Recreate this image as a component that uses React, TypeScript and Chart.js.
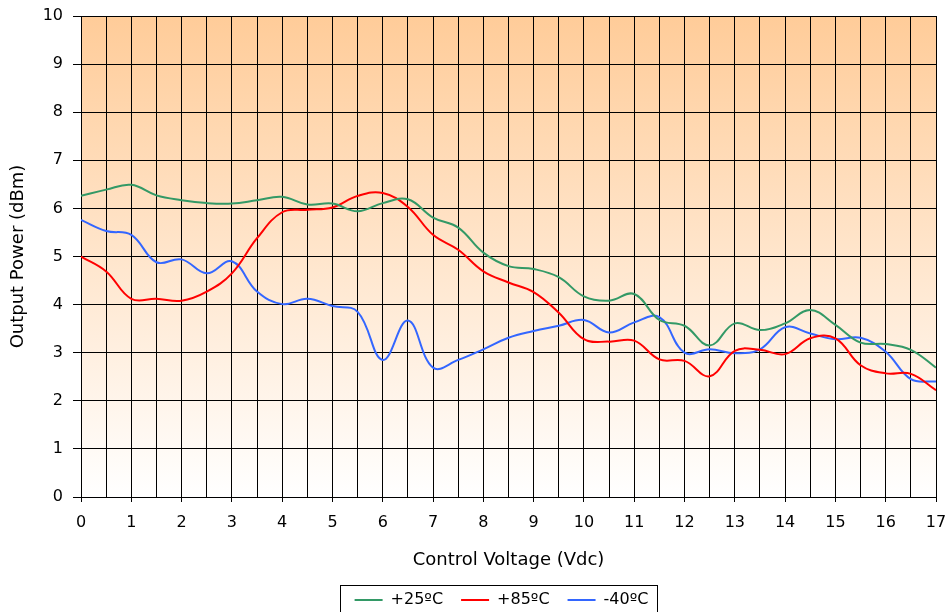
import React, { useEffect, useRef } from "react";
import { Chart, registerables } from "chart.js";

Chart.register(...registerables);

const voltages = [0, 0.5, 1, 1.5, 2, 2.5, 3, 3.5, 4, 4.5, 5, 5.5, 6, 6.5, 7, 7.5, 8, 8.5, 9, 9.5, 10, 10.5, 11, 11.5, 12, 12.5, 13, 13.5, 14, 14.5, 15, 15.5, 16, 16.5, 17];

const power25 = [6.26, 6.39, 6.49, 6.27, 6.17, 6.11, 6.10, 6.17, 6.24, 6.08, 6.10, 5.94, 6.11, 6.19, 5.81, 5.60, 5.08, 4.80, 4.74, 4.57, 4.17, 4.08, 4.22, 3.68, 3.56, 3.15, 3.61, 3.47, 3.61, 3.89, 3.58, 3.21, 3.18, 3.06, 2.69];
const power85 = [5.0, 4.69, 4.12, 4.12, 4.08, 4.27, 4.65, 5.38, 5.92, 5.97, 6.02, 6.26, 6.32, 6.03, 5.45, 5.14, 4.69, 4.46, 4.26, 3.83, 3.28, 3.23, 3.25, 2.86, 2.83, 2.51, 3.04, 3.06, 2.97, 3.30, 3.30, 2.74, 2.57, 2.56, 2.22];
const powerM40 = [5.76, 5.53, 5.45, 4.88, 4.94, 4.65, 4.90, 4.27, 4.01, 4.12, 3.97, 3.85, 2.85, 3.67, 2.69, 2.85, 3.07, 3.31, 3.45, 3.56, 3.68, 3.42, 3.63, 3.74, 3.0, 3.07, 2.99, 3.07, 3.53, 3.40, 3.28, 3.31, 3.02, 2.45, 2.40];

const seriesLabels = ["+25ºC", "+85ºC", "-40ºC"];
const seriesColors = ["#339966", "#FF0000", "#3366FF"];

const FONT = "'DejaVu Sans', Verdana, sans-serif";

const bgPlugin = {
  id: "bgGradient",
  beforeDraw(chart: any) {
    const { ctx, chartArea } = chart;
    if (!chartArea) return;
    const g = ctx.createLinearGradient(0, chartArea.top, 0, chartArea.bottom);
    g.addColorStop(0, "rgb(255,204,153)");
    g.addColorStop(1, "rgb(255,255,255)");
    ctx.save();
    ctx.fillStyle = g;
    ctx.fillRect(chartArea.left, chartArea.top, chartArea.right - chartArea.left, chartArea.bottom - chartArea.top);
    ctx.restore();
  },
};

const legendPlugin = {
  id: "legendShift",
  afterLayout(chart: any) {
    const lg = chart.legend;
    if (!lg) return;
    const dy = 5;
    const dx = -7;
    lg.top += dy;
    lg.bottom += dy;
    lg.left += dx;
    lg.right += dx;
  },
  afterDraw(chart: any) {
    const lg = chart.legend;
    if (!lg || !lg.legendHitBoxes || !lg.legendHitBoxes.length) return;
    const boxes = lg.legendHitBoxes;
    const first = boxes[0];
    const last = boxes[boxes.length - 1];
    const cy = first.top + first.height / 2;
    const { ctx } = chart;
    ctx.save();
    ctx.strokeStyle = "#000";
    ctx.lineWidth = 1;
    const x0 = Math.round(first.left - 15) + 0.5;
    const x1 = Math.round(last.left + last.width + 9) + 0.5;
    const y0 = Math.round(cy - 15) + 0.5;
    ctx.strokeRect(x0, y0, x1 - x0, 40);
    ctx.restore();
  },
};

export default function App() {
  const ref = useRef<HTMLCanvasElement | null>(null);

  useEffect(() => {
    if (!ref.current) return;
    const mk = (data: number[]) => voltages.map((x, i) => ({ x, y: data[i] }));
    const all = [power25, power85, powerM40];
    const chart = new Chart(ref.current, {
      type: "line",
      data: {
        datasets: all.map((d, i) => ({
          label: seriesLabels[i],
          data: mk(d),
          borderColor: seriesColors[i],
          backgroundColor: seriesColors[i],
          borderWidth: 2,
          pointRadius: 0,
          tension: 0.4,
          fill: false,
        })),
      },
      options: {
        animation: false,
        responsive: false,
        maintainAspectRatio: false,
        layout: { padding: { top: 16, right: 13, left: 0, bottom: -1 } },
        plugins: {
          tooltip: { enabled: false },
          legend: {
            position: "bottom",
            fullSize: false,
            labels: {
              font: { family: FONT, size: 16 },
              color: "#000",
              boxWidth: 28,
              boxHeight: 2,
              padding: 18,
              generateLabels(c: any) {
                return c.data.datasets.map((ds: any, i: number) => ({
                  text: ds.label,
                  fillStyle: ds.borderColor,
                  strokeStyle: ds.borderColor,
                  lineWidth: 0,
                  hidden: false,
                  datasetIndex: i,
                  fontColor: "#000",
                }));
              },
            },
          },
        },
        scales: {
          x: {
            type: "linear",
            min: 0,
            max: 17,
            afterFit(scale: any) {
              scale.height = 72;
              scale.paddingLeft = 0;
              scale.paddingRight = 0;
            },
            ticks: {
              stepSize: 0.5,
              autoSkip: false,
              maxRotation: 0,
              padding: 11,
              color: "#000",
              font: { family: FONT, size: 16 },
              callback: (v: any) => (Number(v) % 1 === 0 ? String(v) : ""),
            },
            grid: {
              color: "#000",
              lineWidth: 1,
              tickLength: 5,
              tickColor: (c: any) => (c.tick && c.tick.value % 1 === 0 ? "#000" : "rgba(0,0,0,0)"),
            },
            border: { color: "#000", width: 1 },
            title: {
              display: true,
              text: "Control Voltage (Vdc)",
              color: "#000",
              font: { family: FONT, size: 18 },
              padding: { top: 0, bottom: -2 },
            },
          },
          y: {
            min: 0,
            max: 10,
            afterFit(scale: any) {
              scale.width = 81;
              scale.paddingTop = 0;
              scale.paddingBottom = 0;
            },
            ticks: {
              stepSize: 1,
              padding: 10,
              color: "#000",
              font: { family: FONT, size: 16 },
            },
            grid: { color: "#000", lineWidth: 1, tickLength: 8, tickColor: "#000" },
            border: { color: "#000", width: 1 },
            title: {
              display: true,
              text: "Output Power (dBm)",
              color: "#000",
              font: { family: FONT, size: 18 },
              padding: { top: 8, bottom: 0 },
            },
          },
        },
      },
      plugins: [bgPlugin, legendPlugin],
    });
    return () => chart.destroy();
  }, []);

  return (
    <div style={{ position: "fixed", left: 0, top: 0, width: 949, height: 612, background: "#fff" }}>
      <canvas ref={ref} width={949} height={612} style={{ display: "block" }} />
    </div>
  );
}
